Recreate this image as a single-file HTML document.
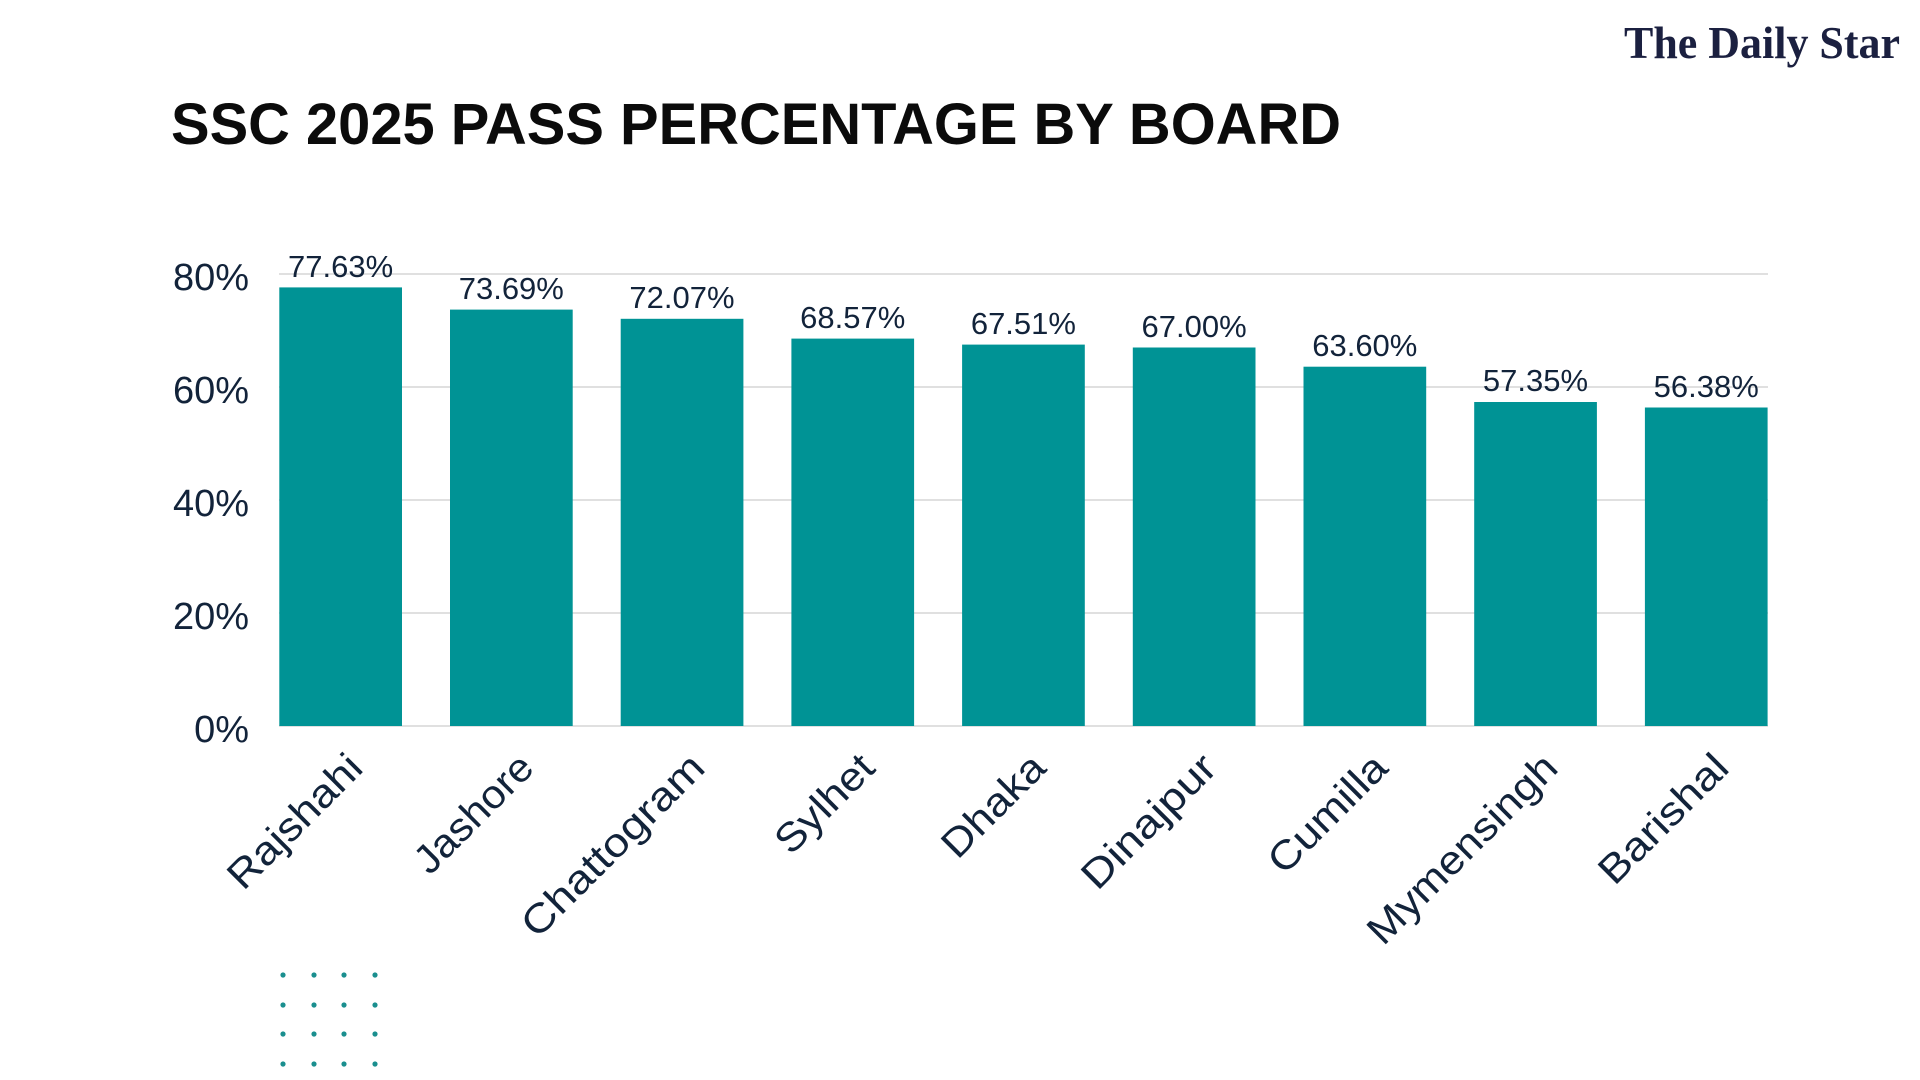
<!DOCTYPE html>
<html><head><meta charset="utf-8"><style>
html,body{margin:0;padding:0;background:#fff;}
svg{display:block;}
</style></head><body>
<svg width="1920" height="1080" viewBox="0 0 1920 1080" xmlns="http://www.w3.org/2000/svg" font-family="Liberation Sans, sans-serif">
<rect width="1920" height="1080" fill="#fff"/>
<text x="1624" y="58" font-family="Liberation Serif, serif" font-weight="bold" font-size="46" fill="#1b2040" textLength="276" lengthAdjust="spacingAndGlyphs">The Daily Star</text>
<text x="171" y="144" font-weight="bold" font-size="58" fill="#0b0b0b" textLength="1170" lengthAdjust="spacingAndGlyphs">SSC 2025 PASS PERCENTAGE BY BOARD</text>
<g stroke="#d6d6d6" stroke-width="1.5">
<line x1="279" y1="274" x2="1768" y2="274"/>
<line x1="279" y1="387" x2="1768" y2="387"/>
<line x1="279" y1="500" x2="1768" y2="500"/>
<line x1="279" y1="613" x2="1768" y2="613"/>
<line x1="279" y1="726" x2="1768" y2="726"/>
</g>
<g font-size="38" fill="#12233a" text-anchor="end">
<text x="249" y="290">80%</text>
<text x="249" y="403">60%</text>
<text x="249" y="516">40%</text>
<text x="249" y="629">20%</text>
<text x="249" y="742">0%</text>
</g>
<g fill="#009395">
<rect x="279.3" y="287.4" width="122.7" height="438.6"/>
<rect x="450.0" y="309.6" width="122.7" height="416.4"/>
<rect x="620.7" y="318.8" width="122.7" height="407.2"/>
<rect x="791.4" y="338.6" width="122.7" height="387.4"/>
<rect x="962.1" y="344.6" width="122.7" height="381.4"/>
<rect x="1132.8" y="347.5" width="122.7" height="378.5"/>
<rect x="1303.5" y="366.7" width="122.7" height="359.3"/>
<rect x="1474.2" y="402.0" width="122.7" height="324.0"/>
<rect x="1644.9" y="407.5" width="122.7" height="318.5"/>
</g>
<g font-size="31" fill="#12233a" text-anchor="middle">
<text x="340.6" y="277">77.63%</text>
<text x="511.3" y="299">73.69%</text>
<text x="682.0" y="308">72.07%</text>
<text x="852.7" y="328">68.57%</text>
<text x="1023.4" y="334">67.51%</text>
<text x="1194.1" y="337">67.00%</text>
<text x="1364.8" y="356">63.60%</text>
<text x="1535.5" y="391">57.35%</text>
<text x="1706.2" y="397">56.38%</text>
</g>
<g font-size="40" fill="#12233a" text-anchor="end">
<text transform="translate(365,770) rotate(-45)" textLength="172" lengthAdjust="spacingAndGlyphs">Rajshahi</text>
<text transform="translate(536,770) rotate(-45)" textLength="150" lengthAdjust="spacingAndGlyphs">Jashore</text>
<text transform="translate(707,770) rotate(-45)" textLength="240" lengthAdjust="spacingAndGlyphs">Chattogram</text>
<text transform="translate(877,770) rotate(-45)" textLength="122" lengthAdjust="spacingAndGlyphs">Sylhet</text>
<text transform="translate(1048,770) rotate(-45)" textLength="128" lengthAdjust="spacingAndGlyphs">Dhaka</text>
<text transform="translate(1219,770) rotate(-45)" textLength="172" lengthAdjust="spacingAndGlyphs">Dinajpur</text>
<text transform="translate(1390,770) rotate(-45)" textLength="150" lengthAdjust="spacingAndGlyphs">Cumilla</text>
<text transform="translate(1560,770) rotate(-45)" textLength="250" lengthAdjust="spacingAndGlyphs">Mymensingh</text>
<text transform="translate(1731,770) rotate(-45)" textLength="165" lengthAdjust="spacingAndGlyphs">Barishal</text>
</g>
<g fill="#1a8f8f">
<circle cx="283" cy="975" r="2.6"/><circle cx="314" cy="975" r="2.6"/><circle cx="344" cy="975" r="2.6"/><circle cx="375" cy="975" r="2.6"/>
<circle cx="283" cy="1005" r="2.6"/><circle cx="314" cy="1005" r="2.6"/><circle cx="344" cy="1005" r="2.6"/><circle cx="375" cy="1005" r="2.6"/>
<circle cx="283" cy="1034" r="2.6"/><circle cx="314" cy="1034" r="2.6"/><circle cx="344" cy="1034" r="2.6"/><circle cx="375" cy="1034" r="2.6"/>
<circle cx="283" cy="1064" r="2.6"/><circle cx="314" cy="1064" r="2.6"/><circle cx="344" cy="1064" r="2.6"/><circle cx="375" cy="1064" r="2.6"/>
</g>
</svg>
</body></html>
